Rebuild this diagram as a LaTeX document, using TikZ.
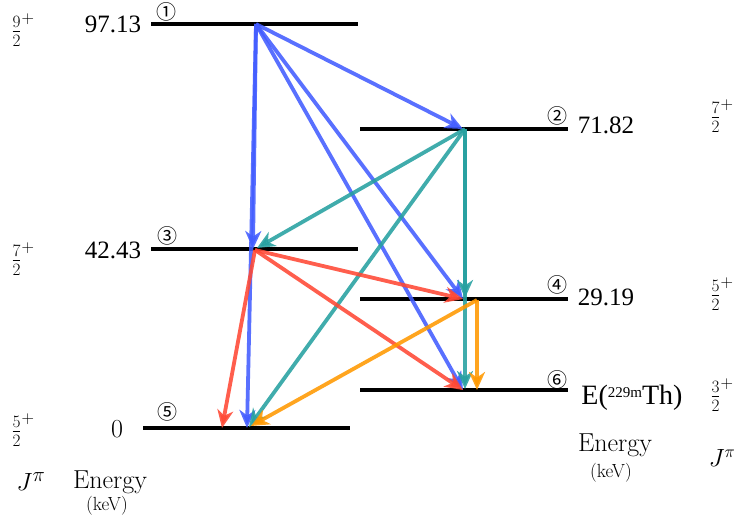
\documentclass[tikz,border=0pt]{standalone}
\usepackage{fontspec}
\newfontfamily\numfont{Liberation Serif}
\newfontfamily\circfont{Noto Sans CJK SC}
\usetikzlibrary{arrows.meta}
\definecolor{cblue}{RGB}{66,92,255}
\definecolor{cteal}{RGB}{38,160,160}
\definecolor{cred}{RGB}{255,72,52}
\definecolor{corange}{RGB}{255,152,0}
\begin{document}
\begin{tikzpicture}[x=1pt,y=-1pt,
  lvl/.style={line width=3.4pt,black},
  tr/.style={line width=3.8pt,draw opacity=0.88,fill opacity=0.88,
    -{Stealth[length=18pt,width=16pt,inset=5.5pt]}},
  num/.style={font=\numfont\fontsize{25}{28}\selectfont,inner sep=0pt},
  circ/.style={font=\circfont\fontsize{20}{24}\selectfont,inner sep=0pt},
  spin/.style={font=\fontsize{23}{26}\selectfont,inner sep=0pt},
  lab/.style={font=\fontsize{26}{30}\selectfont,inner sep=0pt},
  unit/.style={font=\fontsize{19}{22}\selectfont,inner sep=0pt}]
\useasboundingbox (0,0) rectangle (737,525);

% level lines
\coordinate (L1a) at (151,24);  \coordinate (L1b) at (358,24);
\coordinate (L2a) at (360,129); \coordinate (L2b) at (568,129);
\coordinate (L3a) at (151,249); \coordinate (L3b) at (358,249);
\coordinate (L4a) at (360,299); \coordinate (L4b) at (568,299);
\coordinate (L6a) at (360,390); \coordinate (L6b) at (568,390);
\coordinate (L5a) at (143,428); \coordinate (L5b) at (350,428);
\draw[lvl] (L1a) -- (L1b);
\draw[lvl] (L2a) -- (L2b);
\draw[lvl] (L3a) -- (L3b);
\draw[lvl] (L4a) -- (L4b);
\draw[lvl] (L6a) -- (L6b);
\draw[lvl] (L5a) -- (L5b);

% labels
\node[spin] (f1) at (23,30) {$\frac{9}{2}^{+}$};
\node[num] (e1) at (113,24) {97.13};
\node[circ] (c1) at (166,12) {①};

\node[circ] (c2) at (557,116) {②};
\node[num] (e2) at (606,125) {71.82};
\node[spin] (f2) at (722,116) {$\frac{7}{2}^{+}$};

\node[spin] (f3) at (23,259) {$\frac{7}{2}^{+}$};
\node[num] (e3) at (113,250) {42.43};
\node[circ] (c3) at (167,236) {③};

\node[circ] (c4) at (557,285) {④};
\node[num] (e4) at (606,297) {29.19};
\node[spin] (f4) at (722,294) {$\frac{5}{2}^{+}$};

\node[circ] (c6) at (557,380) {⑥};
\node[num,font=\numfont\fontsize{28}{30}\selectfont] (e6) at (632,398) {E({\fontsize{15}{16}\selectfont\raisebox{7pt}{229m}}Th)};
\node[spin] (f6) at (722,395) {$\frac{3}{2}^{+}$};

\node[spin] (f5) at (23,430) {$\frac{5}{2}^{+}$};
\node[lab] (e5) at (117,429) {0};
\node[circ] (c5) at (167,412) {⑤};

\node[lab,font=\fontsize{28}{30}\selectfont] (jl) at (31,482) {$J^{\pi}$};
\node[lab] (enl) at (110,482) {Energy};
\node[unit] (kl) at (107,506) {(keV)};
\node[lab] (enr) at (615,445) {Energy};
\node[unit] (kr) at (611,473) {(keV)};
\node[lab,font=\fontsize{26}{30}\selectfont] (jr) at (722,458) {$J^{\pi}$};

% transition end points
\coordinate (s1) at (256,24);
\coordinate (t2) at (463,129);
\coordinate (s2) at (465,129);
\coordinate (t3) at (253,249);
\coordinate (t3b) at (257,248);
\coordinate (s3) at (255,250);
\coordinate (t4) at (463,299);
\coordinate (t4t) at (465,298);
\coordinate (s4) at (477,300);
\coordinate (t6) at (463,390);
\coordinate (t6t) at (465,389);
\coordinate (t6o) at (477,390);
\coordinate (t5) at (247,428);
\coordinate (t5r) at (222,428);
\coordinate (t5t) at (249,427);
\coordinate (t5o) at (251,426);

% blue: from level 1
\draw[tr,cblue] (s1) -- (t3);
\draw[tr,cblue] (s1) -- (t5);
\draw[tr,cblue] (s1) -- (t2);
\draw[tr,cblue] (s1) -- (t4);
\draw[tr,cblue] (s1) -- (t6);
% teal: from level 2
\draw[tr,cteal] (s2) -- (t3b);
\draw[tr,cteal] (s2) -- (t5t);
\draw[tr,cteal] (s2) -- (t4t);
\draw[tr,cteal] (s2) -- (t6t);
% red: from level 3
\draw[tr,cred] (s3) -- (t5r);
\draw[tr,cred] (s3) -- (t4);
\draw[tr,cred] (s3) -- (t6);
% orange: from level 4
\draw[tr,corange] (s4) -- (t5o);
\draw[tr,corange] (s4) -- (t6o);
\end{tikzpicture}
\end{document}
